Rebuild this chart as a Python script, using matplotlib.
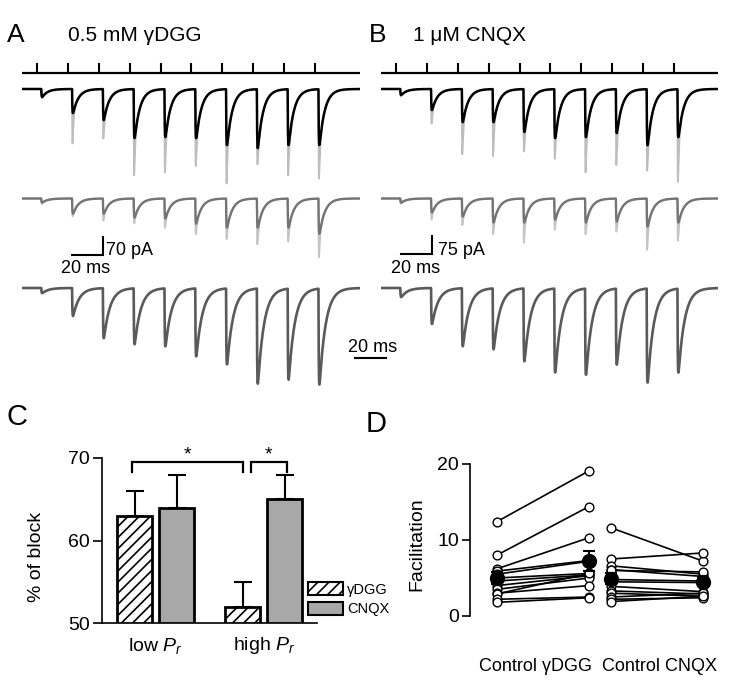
import numpy as np
import matplotlib
matplotlib.use('Agg')
import matplotlib.pyplot as plt
from matplotlib.patches import Patch

plt.rcParams['font.family'] = ['Liberation Sans', 'DejaVu Sans']
plt.rcParams['mathtext.fontset'] = 'custom'
plt.rcParams['mathtext.rm'] = 'Liberation Sans'
plt.rcParams['mathtext.it'] = 'Liberation Sans:italic'
plt.rcParams['hatch.linewidth'] = 1.2

# ---- data ----
# stimulus times (ms), 10 pulses at 50 Hz
stim_times = [10, 30, 50, 70, 90, 110, 130, 150, 170, 190]
latency = 2.5

# panel A (0.5 mM gDGG), peak amplitudes in pA for each pulse
a_top_mean = [31, 94, 121, 191, 187, 191, 218, 230, 218, 218]
a_top_sweeps = [39, 230, 211, 367, 355, 328, 402, 316, 367, 382]
a_mid_mean = [16, 59, 59, 74, 78, 98, 113, 113, 113, 137]
a_mid_sweeps = [23, 74, 94, 105, 125, 152, 172, 195, 183, 250]
a_bottom = [20, 109, 195, 218, 226, 265, 296, 371, 355, 374]

# panel B (1 uM CNQX)
b_top_mean = [25, 88, 138, 138, 179, 204, 200, 183, 234, 200]
b_top_sweeps = [33, 158, 296, 304, 284, 317, 379, 346, 371, 421]
b_mid_mean = [17, 58, 75, 100, 100, 88, 100, 96, 117, 100]
b_mid_sweeps = [25, 96, 121, 163, 200, 142, 163, 150, 234, 192]
b_bottom = [38, 150, 242, 254, 304, 350, 359, 317, 392, 350]

# panel C, % of block
groups = ['low $P_r$', 'high $P_r$']
block_dgg = [63, 52]
err_dgg = [3, 3]
block_cnqx = [64, 65]
err_cnqx = [4, 3]

# panel D, facilitation per cell
ctrl_dgg = [12.4, 8.0, 6.2, 5.9, 5.5, 5.0, 4.6, 4.0, 3.5, 3.0, 2.9, 2.2, 1.8]
dgg = [19.1, 14.4, 10.3, 7.3, 7.2, 5.6, 5.4, 5.3, 5.0, 4.0, 5.6, 2.5, 2.4]
ctrl_cnqx = [11.6, 7.5, 6.6, 6.1, 6.0, 4.8, 4.5, 3.9, 3.3, 3.0, 2.5, 2.2, 1.9]
cnqx = [7.2, 8.3, 5.5, 5.2, 5.8, 4.6, 4.4, 3.2, 2.9, 2.6, 3.0, 2.4, 2.6]

W, H = 734, 680
fig = plt.figure(figsize=(W / 100, H / 100), dpi=100)


def px_axes(x0, y0, x1, y1):
    return fig.add_axes([x0 / W, 1 - y1 / H, (x1 - x0) / W, (y1 - y0) / H])


def ftext(x, y, s, **kw):
    fig.text(x / W, 1 - y / H, s, **kw)


t = np.arange(0, 220, 0.05)


def kernel(s, tau, rise=0.2):
    k = (1 - np.exp(-s / rise)) * np.exp(-s / tau)
    ss = np.arange(0, 30, 0.01)
    return k / ((1 - np.exp(-ss / rise)) * np.exp(-ss / tau)).max()


def trace(amps, spikes=None, tau=3.5):
    y = np.zeros_like(t)
    for i, t0 in enumerate(stim_times):
        s = t - (t0 + latency)
        m = s > 0
        y[m] -= amps[i] * kernel(s[m], tau)
        if spikes is not None:
            y[m] -= max(spikes[i] - amps[i], 0) * kernel(s[m], 0.55, 0.12)
    return y


def trace_axes(x0, x1, base, pa_px):
    ax = px_axes(x0, base - 15, x1, base + 110)
    ax.set_xlim(0, (x1 - x0) / 1.54)
    ax.set_ylim(-110 * pa_px, 15 * pa_px)
    ax.axis('off')
    ax.patch.set_visible(False)
    return ax


def stim_axes(x0, x1):
    ax = px_axes(x0, 60, x1, 76)
    ax.set_xlim(0, (x1 - x0) / 1.54)
    ax.set_ylim(-0.3, 1.3)
    ax.axhline(0, color='k', lw=1.6)
    ax.vlines(stim_times, 0, 1, color='k', lw=1.5)
    ax.axis('off')
    ax.patch.set_visible(False)


for x0, x1, pa, top_m, top_s, mid_m, mid_s, bot in [
        (22, 360, 3.9, a_top_mean, a_top_sweeps, a_mid_mean, a_mid_sweeps, a_bottom),
        (381, 718, 4.17, b_top_mean, b_top_sweeps, b_mid_mean, b_mid_sweeps, b_bottom)]:
    stim_axes(x0, x1)
    ax = trace_axes(x0, x1, 89, pa)
    ax.plot(t, trace(top_m, top_s), color='#bdbdbd', lw=1.3)
    ax.plot(t, trace(top_m), color='black', lw=1.8)
    ax = trace_axes(x0, x1, 198.5, pa)
    ax.plot(t, trace(mid_m, mid_s), color='#c4c4c4', lw=1.3)
    ax.plot(t, trace(mid_m), color='#747474', lw=1.7)
    if x0 == 22:
        ax_a_mid = ax
    else:
        ax_b_mid = ax
    ax = trace_axes(x0, x1, 288, pa)
    ax.plot(t, trace(bot, tau=4.0), color='#5a5a5a', lw=1.9)
    if x0 == 22:
        ax_a_bot = ax

# scale bars
for ax, cx, cy, amp in [(ax_a_mid, 52.6, -222, 70), (ax_b_mid, 33.1, -233, 75)]:
    ax.plot([cx - 20, cx, cx], [cy, cy, cy + amp], color='k', lw=1.5,
            solid_joinstyle='miter', clip_on=False)
ax_a_bot.plot([216.2, 236.2], [-273, -273], color='k', lw=1.5, clip_on=False)

ftext(106, 255, '70 pA', fontsize=13)
ftext(86, 273, '20 ms', fontsize=13, ha='center')
ftext(438, 255, '75 pA', fontsize=13)
ftext(416, 273, '20 ms', fontsize=13, ha='center')
ftext(373, 352, '20 ms', fontsize=13, ha='center')

# panel labels and titles
ftext(7, 42, 'A', fontsize=19)
ftext(68, 41, '0.5 mM γDGG', fontsize=15)
ftext(369, 42, 'B', fontsize=19)
ftext(413, 41, '1 μM CNQX', fontsize=15)
ftext(7, 425, 'C', fontsize=21)
ftext(366, 432, 'D', fontsize=21)

# ---- panel C ----
axc = px_axes(102, 458, 317, 623)
centers = np.array([1.53, 4.62])
x_dgg = centers - 0.6
x_cnqx = centers + 0.6
axc.errorbar(x_dgg, block_dgg, yerr=[[0, 0], err_dgg], fmt='none', ecolor='k',
             elinewidth=1.5, capsize=6.5, capthick=1.5, clip_on=False)
axc.errorbar(x_cnqx, block_cnqx, yerr=[[0, 0], err_cnqx], fmt='none', ecolor='k',
             elinewidth=1.5, capsize=6.5, capthick=1.5, clip_on=False)
axc.bar(x_dgg, np.array(block_dgg) - 50, bottom=50, width=1.0, color='white',
        edgecolor='k', lw=2, hatch='///', zorder=3)
axc.bar(x_cnqx, np.array(block_cnqx) - 50, bottom=50, width=1.0, color='#a8a8a8',
        edgecolor='k', lw=2, zorder=3)
axc.set_xlim(0, 215 / 35)
axc.set_ylim(50, 70)
axc.set_yticks([50, 60, 70])
axc.set_xticks(centers)
axc.set_xticklabels(groups)
axc.tick_params(axis='y', direction='out', length=6.5, width=1.2, labelsize=14, pad=2)
axc.tick_params(axis='x', length=0, labelsize=14, pad=9)
for sp in ['top', 'right']:
    axc.spines[sp].set_visible(False)
axc.spines['left'].set_linewidth(1.2)
axc.spines['bottom'].set_linewidth(1.2)
axc.set_ylabel('% of block', fontsize=14)
axc.yaxis.set_label_coords(-0.265, 0.4)

# significance brackets
for xl, xr in [(x_dgg[0] - 0.07, x_dgg[1]), (x_dgg[1] + 0.23, x_cnqx[1] + 0.07)]:
    axc.plot([xl, xl, xr, xr], [68.3, 69.5, 69.5, 68.3], color='k', lw=1.6,
             clip_on=False, solid_joinstyle='miter')
    axc.text((xl + xr) / 2, 69.3, '*', ha='center', va='bottom', fontsize=14)

fig.legend([Patch(facecolor='white', edgecolor='k', hatch='///', lw=1.5),
            Patch(facecolor='#a8a8a8', edgecolor='k', lw=1.5)],
           ['γDGG', 'CNQX'], loc='upper left', bbox_to_anchor=(308 / W, 1 - 582 / H),
           frameon=False, borderpad=0, borderaxespad=0, fontsize=10.5,
           handlelength=2.4, handleheight=1.03, labelspacing=0.34, handletextpad=0.27)

# ---- panel D ----
axd = px_axes(470, 464, 720, 616)
xpos = [0, 1, 1.24, 2.24]
for (xa, xb), (ca, cb) in [((xpos[0], xpos[1]), (ctrl_dgg, dgg)),
                           ((xpos[2], xpos[3]), (ctrl_cnqx, cnqx))]:
    for u, v in zip(ca, cb):
        axd.plot([xa, xb], [u, v], color='k', lw=1.2, zorder=2, clip_on=False)
    axd.plot([xa] * len(ca), ca, 'o', mfc='white', mec='k', ms=6.3, mew=1.0,
             zorder=3, clip_on=False)
    axd.plot([xb] * len(cb), cb, 'o', mfc='white', mec='k', ms=6.3, mew=1.0,
             zorder=3, clip_on=False)
    for xx, vals in [(xa, ca), (xb, cb)]:
        m = np.mean(vals)
        sem = np.std(vals, ddof=1) / np.sqrt(len(vals))
        axd.errorbar([xx], [m], yerr=[sem], fmt='o', color='k', ms=10, capsize=4,
                     elinewidth=1.5, capthick=1.5, zorder=4, clip_on=False)
axd.set_xlim(-0.29, 2.42)
axd.set_ylim(0, 20)
axd.set_yticks([0, 10, 20])
axd.set_xticks([])
for sp in ['top', 'right', 'bottom']:
    axd.spines[sp].set_visible(False)
axd.spines['left'].set_linewidth(1.2)
axd.tick_params(axis='y', direction='out', length=6, width=1.2, labelsize=14, pad=2)
axd.set_ylabel('Facilitation', fontsize=14)
axd.yaxis.set_label_coords(-0.18, 0.47)
ftext(598, 671, 'Control γDGG  Control CNQX', fontsize=13, ha='center')

fig.savefig('out.png', dpi=100)
